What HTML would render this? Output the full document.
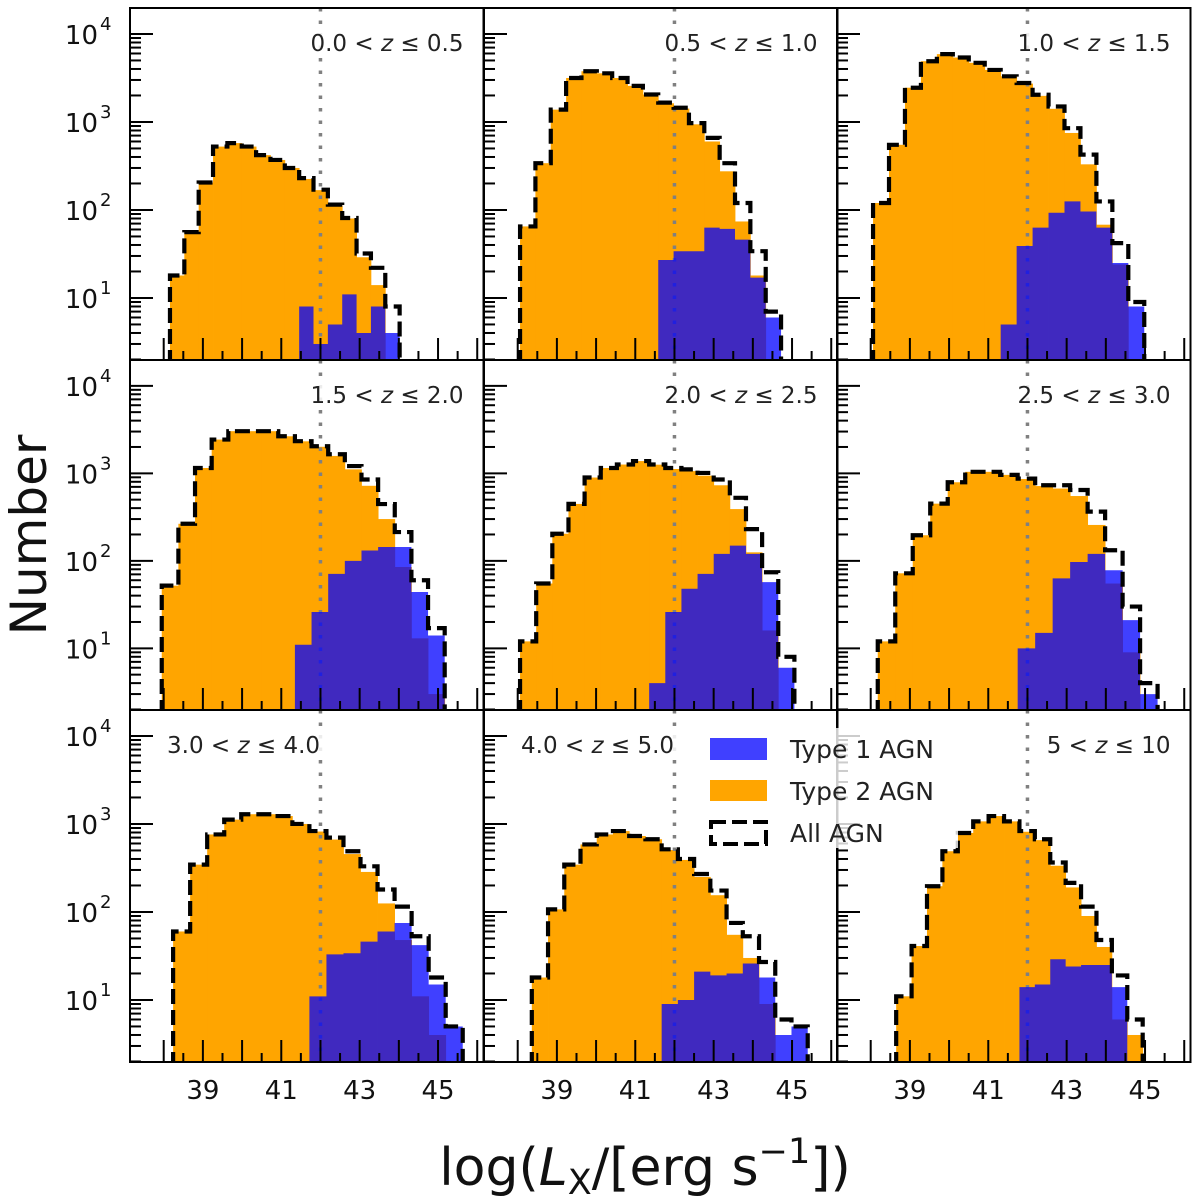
<!DOCTYPE html>
<html><head><meta charset="utf-8">
<style>
html,body{margin:0;padding:0;background:#fff;}
svg{display:block;font-family:"DejaVu Sans","Liberation Sans",sans-serif;}
</style></head>
<body>
<svg id="fig" width="1200" height="1202" viewBox="0 0 1200 1202" xmlns="http://www.w3.org/2000/svg">
<text x="46" y="535" font-size="50" text-anchor="middle" transform="rotate(-90 46 535)" fill="#111">Number</text>
<text x="645" y="1185" font-size="52" text-anchor="middle" fill="#111">log(<tspan font-style="italic">L</tspan><tspan font-size="35" dy="9">X</tspan><tspan dy="-9">/[erg s</tspan><tspan font-size="35" dy="-22">−1</tspan><tspan dy="22">])</tspan></text>
</svg>
<script>
// ---- data ----
const zLabels = [["0.0","0.5"],["0.5","1.0"],["1.0","1.5"],["1.5","2.0"],["2.0","2.5"],["2.5","3.0"],["3.0","4.0"],["4.0","5.0"],["5","10"]];
const binLo = [38.16,38.06,38.06,37.95,38.06,38.18,38.24,38.36,38.65];
const binHi = [44.02,44.72,44.98,45.17,45.06,45.32,45.63,45.40,44.94];
const allAGN = [
 [18,56,205,525,575,525,420,370,300,230,170,115,81,32,22,8],
 [65,340,1380,3160,3770,3570,3160,2570,2050,1660,1450,970,660,340,120,34,7],
 [120,550,2450,4900,5900,5400,4700,3900,3300,2770,2040,1500,850,425,125,42,9],
 [52,265,1150,2430,3030,3030,3030,2650,2330,2040,1650,1210,850,445,213,60,17],
 [12,55,204,447,895,1150,1260,1380,1260,1150,1110,1010,850,525,230,74,8],
 [12,72,196,450,790,1040,1040,960,870,730,730,645,365,132,30,4],
 [60,345,760,1120,1290,1290,1230,1000,830,700,490,330,180,115,53,18,5],
 [18,107,345,585,760,830,730,670,515,400,270,175,75,53,27,6,5],
 [11,41,196,490,790,1070,1230,1070,830,670,365,214,115,48,19,6]
];
const type2AGN = [
 [18,56,205,525,575,525,420,370,300,225,168,112,80,29,14,0],
 [65,340,1380,3160,3770,3570,3160,2570,2050,1630,1420,940,600,275,74,18,0],
 [120,550,2450,4900,5900,5400,4700,3900,3300,2730,1980,1410,750,330,68,24,0],
 [52,265,1150,2430,3030,3030,3030,2650,2320,2010,1580,1110,720,300,85,13,3],
 [12,55,204,447,895,1150,1260,1380,1255,1120,1060,940,730,390,125,16,0],
 [12,72,196,450,790,1040,1040,960,860,715,670,550,257,55,9,0],
 [60,345,760,1120,1290,1290,1230,1000,820,665,455,285,125,48,11,4,0],
 [18,107,345,585,760,830,730,670,505,390,250,155,55,30,9,0,0],
 [11,41,196,490,790,1070,1230,1070,815,655,335,190,90,40,6,4]
];
const type1AGN = [
 [0,0,0,0,0,0,0,0,0,8,3,5,11,4,8,4],
 [0,0,0,0,0,0,0,0,0,27,34,34,63,61,46,17,6],
 [0,0,0,0,0,0,0,0,5,39,63,93,125,96,63,25,8],
 [0,0,0,0,0,0,0,0,11,26,71,100,131,144,144,44,14],
 [0,0,0,0,0,0,0,0,4,26,48,71,120,149,120,57,6],
 [0,0,0,0,0,0,0,0,10,15,63,97,120,78,21,3],
 [0,0,0,0,0,0,0,0,11,33,34,46,60,75,42,15,5],
 [0,0,0,0,0,0,0,0,9,10,21,19,20,26,18,4,5],
 [0,0,0,0,0,0,0,0,14,15,29,24,25,25,14,0]
];
const xTickLabels = [39,41,43,45];
const yTickExps = [1,2,3,4];
const threshold = 42;
// ---- layout ----
const NS = "http://www.w3.org/2000/svg";
const svg = document.getElementById('fig');
const colL = [130,484,837], colW = 353.5;
const rowT = [8,360,710], rowH = [352,350,352];
const XMIN = 37.14, XMAX = 46.16, LMIN = 0.295, LMAX = 4.295;
function mk(tag, attrs, parent){ const e=document.createElementNS(NS,tag); for(const k in attrs) e.setAttribute(k,attrs[k]); (parent||svg).appendChild(e); return e; }

for(let p=0;p<9;p++){
  const c=p%3, r=Math.floor(p/3);
  const L=colL[c], T=rowT[r], H=rowH[r], B=T+H;
  const xs = v => L + (v-XMIN)/(XMAX-XMIN)*colW;
  const ys = n => { const lg = n>0 ? Math.log10(n) : -5; return B - (lg-LMIN)/(LMAX-LMIN)*H; };
  const g = mk('g',{});
  
  
  const cid='clip'+p;
  const cp=mk('clipPath',{id:cid},g); mk('rect',{x:L,y:T,width:colW,height:H},cp);
  const inner=mk('g',{'clip-path':'url(#'+cid+')'},g);
  const n=allAGN[p].length, w=(binHi[p]-binLo[p])/n;
  type2AGN[p].forEach((v,i)=>{ if(v<=0) return;
    const x0=xs(binLo[p]+i*w), x1=xs(binLo[p]+(i+1)*w);
    const el=mk('rect',{x:x0,y:ys(v),width:x1-x0+0.4,height:Math.max(0,B-ys(v)),fill:'#ffa500'},inner);
    
    
  });
  const tl=mk('line',{x1:xs(threshold),x2:xs(threshold),y1:T,y2:B,stroke:'#808080','stroke-width':3.5,'stroke-dasharray':'3.5 9'},inner);
  
  
  let bd='';
  type1AGN[p].forEach((v,i)=>{ if(v<=0) return;
    const x0=xs(binLo[p]+i*w), x1=xs(binLo[p]+(i+1)*w), y=ys(v);
    bd+='M'+x0+','+B+' L'+x0+','+y+' L'+x1+','+y+' L'+x1+','+B+' Z ';
  });
  const bp=mk('path',{d:bd||'M0,0',fill:'#0000ff','fill-opacity':0.75,stroke:'none'},inner);
  
  
  let d='M'+xs(binLo[p])+','+(B+5);
  allAGN[p].forEach((v,i)=>{ const y=Math.min(B+5,ys(v)); d+=' L'+xs(binLo[p]+i*w)+','+y+' L'+xs(binLo[p]+(i+1)*w)+','+y; });
  d+=' L'+xs(binHi[p])+','+(B+5);
  const st=mk('path',{d:d,fill:'none',stroke:'#000','stroke-width':4.2,'stroke-dasharray':'15 6'},inner);
  
  
  for(let t=38;t<=46;t+=0.5){ const X=xs(t); if(X<L+1||X>L+colW-1) continue;
    const major=Number.isInteger(t);
    mk('line',{x1:X,x2:X,y1:B,y2:B-(major?22:9),stroke:'#000','stroke-width':2},g);
  }
  for(let e=0;e<=4;e++){ for(let m=1;m<=9;m++){ const lg=e+Math.log10(m); if(lg<LMIN||lg>LMAX) continue;
    const Y=B-(lg-LMIN)/(LMAX-LMIN)*H;
    mk('line',{x1:L,x2:L+(m===1?23:11),y1:Y,y2:Y,stroke:'#000','stroke-width':2},g);
  }}
  const fr=mk('rect',{x:L,y:T,width:colW,height:H,fill:'none',stroke:'#000','stroke-width':2},g);
  
  
  const leftAlign = (p===6||p===7);
  const tx = leftAlign ? L+37 : L+colW-20;
  const tyy = T + 43;
  const lbl=mk('text',{x:tx,y:tyy,'font-size':23,'text-anchor':leftAlign?'start':'end',fill:'#222'},g);
  
  
  lbl.innerHTML = zLabels[p][0]+' &lt; <tspan font-style="italic">z</tspan> ≤ '+zLabels[p][1];
  const bb=lbl.getBBox();
  const bg=mk('rect',{x:bb.x-3,y:bb.y-1,width:bb.width+6,height:bb.height+2,fill:'#fff','fill-opacity':0.85});
  g.insertBefore(bg,lbl);
  if(c===0){ yTickExps.forEach(e=>{ const Y=B-(e-LMIN)/(LMAX-LMIN)*H;
    const t=mk('text',{x:98,y:Y+10,'font-size':26,'text-anchor':'end',fill:'#111'},g);
    
    
    t.textContent='10';
    const s=mk('text',{x:100,y:Y-4,'font-size':18,fill:'#111'},g);
    
    
    s.textContent=String(e);
  }); }
  if(r===2){ xTickLabels.forEach(v=>{
    const t=mk('text',{x:xs(v),y:1099,'font-size':26,'text-anchor':'middle',fill:'#111'},g);
    
    
    t.textContent=String(v);
  }); }
}
const lg=mk('g',{});


mk('rect',{x:700,y:728,width:258,height:120,fill:'#fff','fill-opacity':0.8},lg);
const lb=mk('rect',{x:710,y:738,width:57,height:22,fill:'#0000ff','fill-opacity':0.75},lg);


const lo=mk('rect',{x:710,y:780,width:57,height:21,fill:'#ffa500'},lg);


const ld=mk('rect',{x:711,y:822,width:55,height:22,fill:'none',stroke:'#000','stroke-width':4,'stroke-dasharray':'15 6'},lg);


[["Type 1 AGN",758],["Type 2 AGN",800],["All AGN",842]].forEach(([s,y])=>{
  const t=mk('text',{x:790,y:y,'font-size':25,fill:'#222'},lg);
  
  
  t.textContent=s;
});
</script>
</body></html>
